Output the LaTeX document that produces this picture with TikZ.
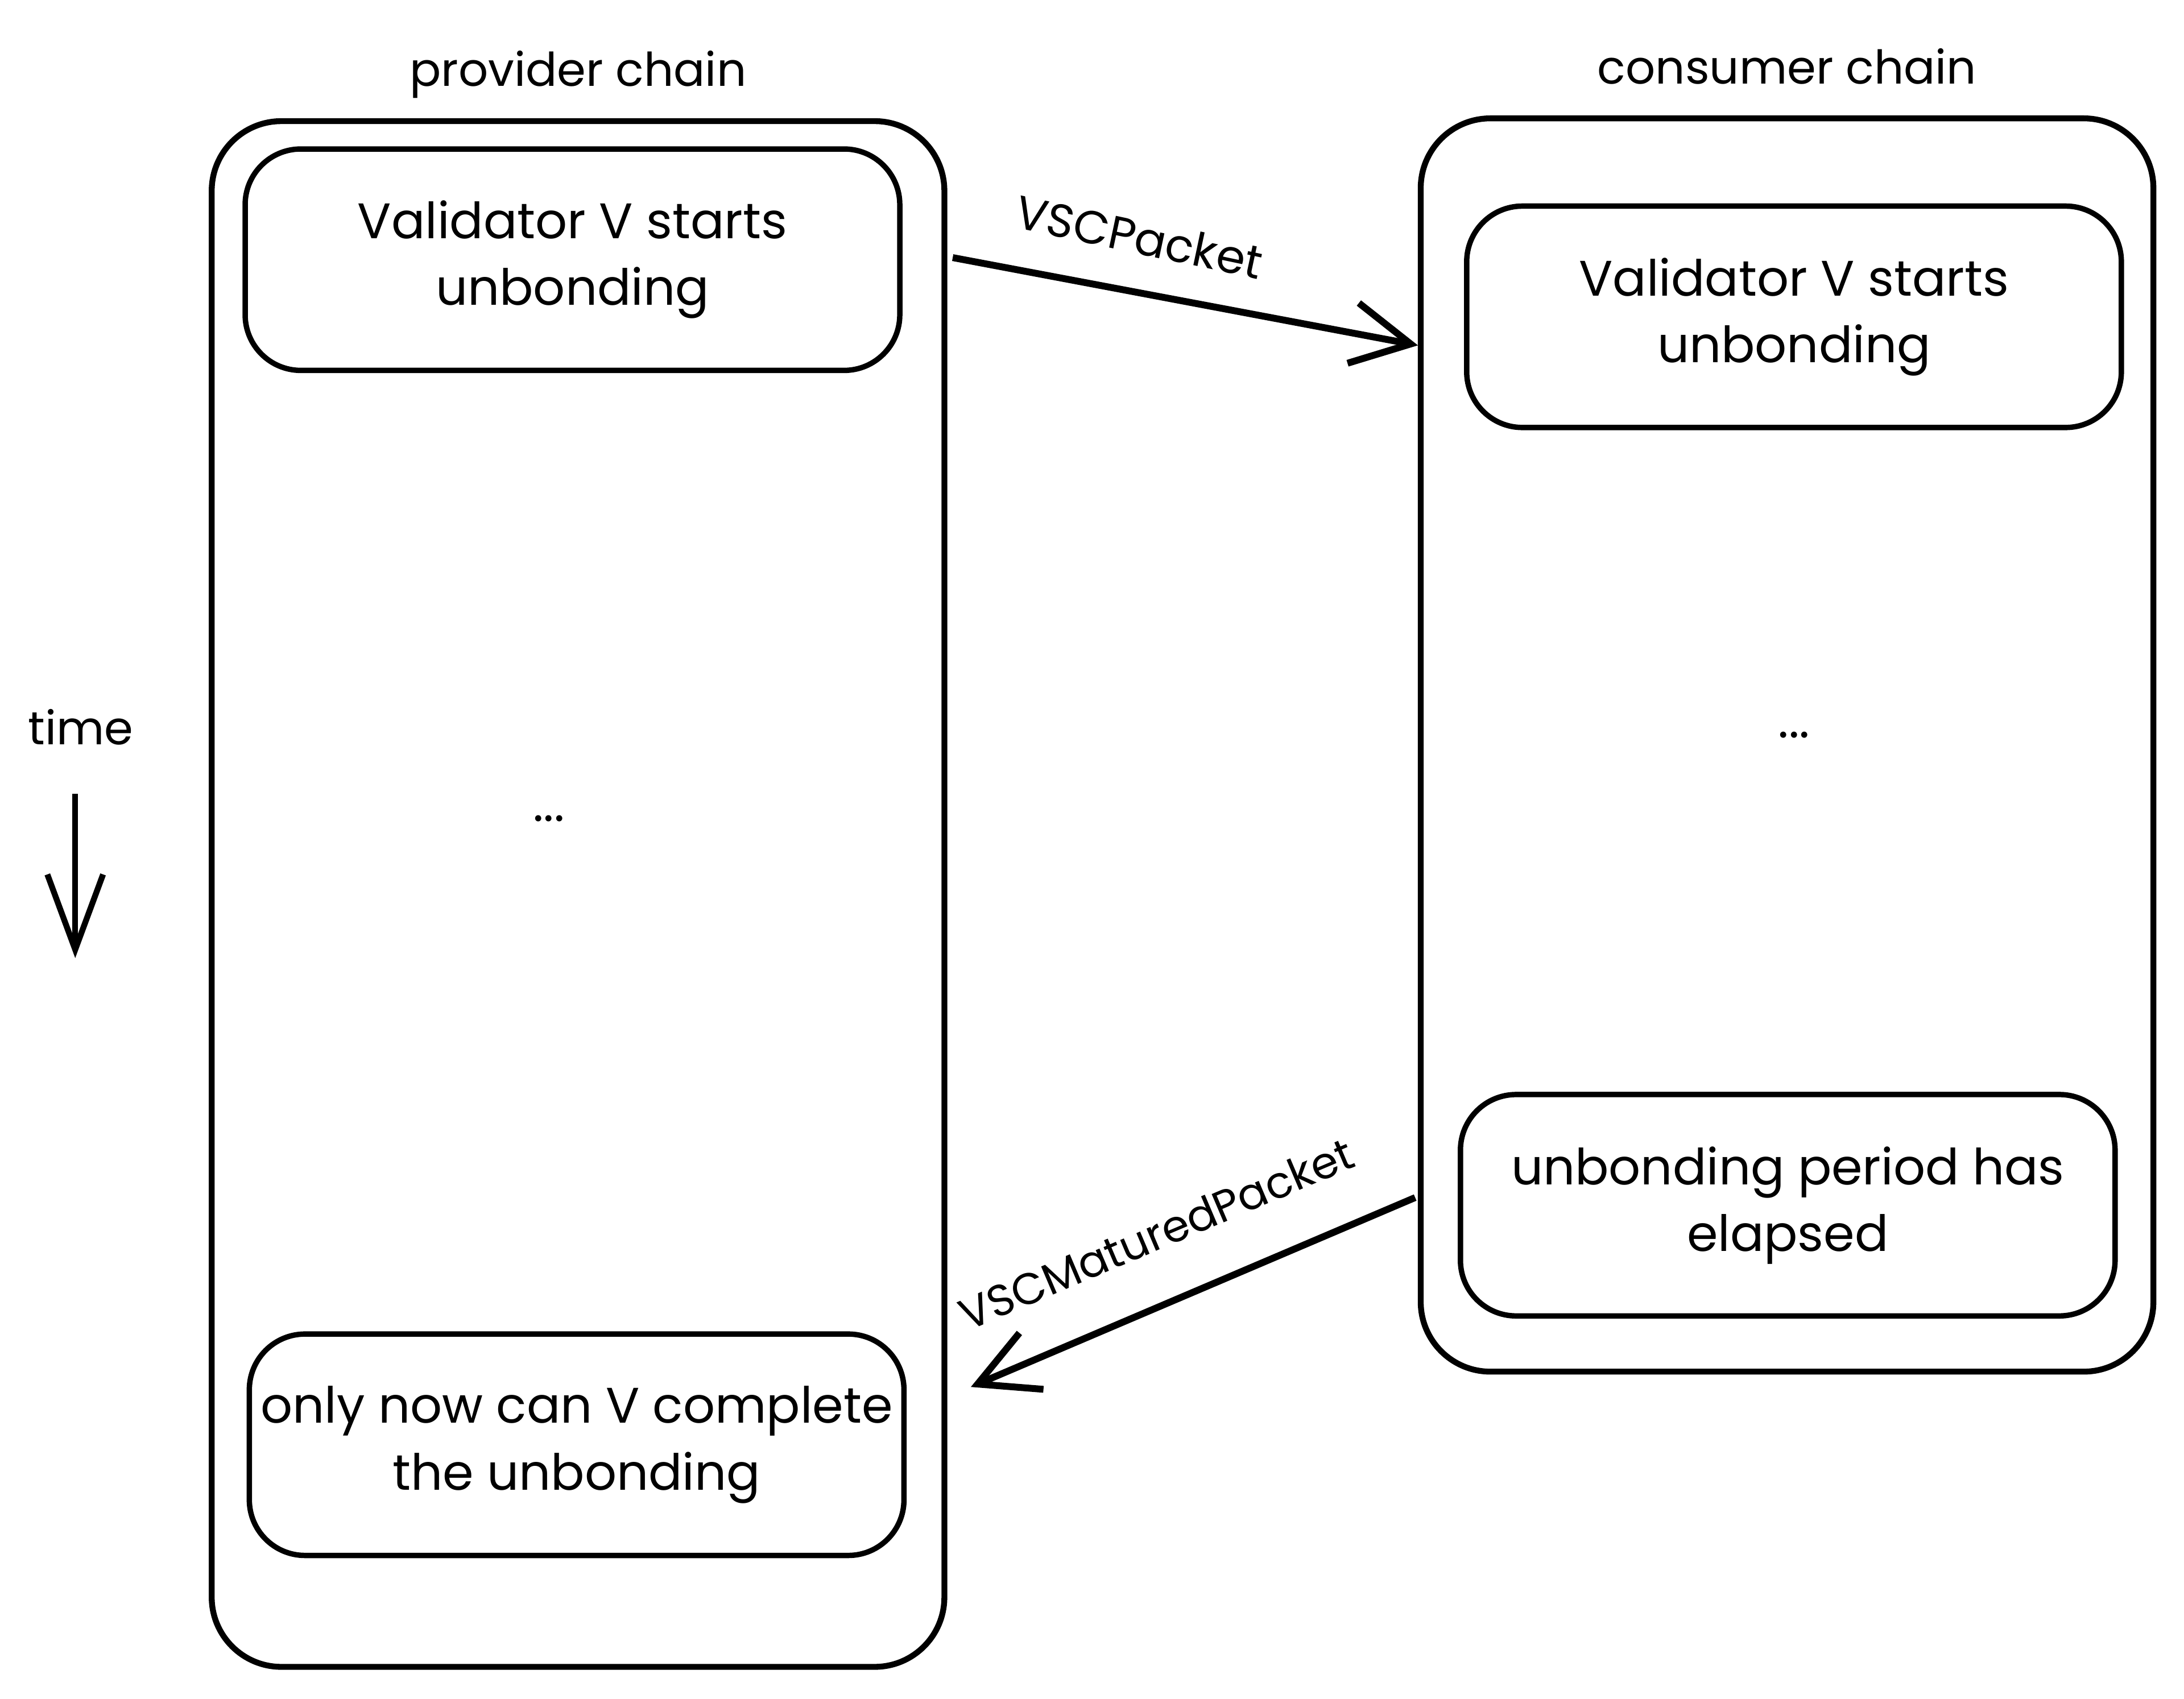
\documentclass[tikz,border=0pt]{standalone}
\usepackage{fontspec}
\setmainfont{Poppins}
\usetikzlibrary{positioning, arrows.meta}

\begin{document}
\begin{tikzpicture}[>={Straight Barb[length=4.2mm, width=4.4mm]}, font=\fontsize{10.2}{13.6}\selectfont,
          chain/.style ={draw, rounded corners=5mm, line width=1.2pt, minimum width=52.6mm},
          ev/.style ={draw, rounded corners=4mm, line width=1.1pt, align=center,
                     minimum width=47mm, minimum height=15.9mm, inner sep=1pt},
          lab/.style={font=\fontsize{9.5}{12}\selectfont},
          msg/.style={line width=1.4pt, ->}]
        \useasboundingbox (0,0) rectangle (15.68,12.20);
        % provider side
        \node[chain, minimum height=111mm] (pout) at (4.15,5.78) {};
        \node[ev] (pstart) at (4.11,10.335) {Validator V starts\\unbonding};
        \node[ev] (pend) at (4.14,1.825) {only now can V complete\\the unbonding};
        \node (pdots) at (3.94,6.32) {...};
        \node[lab, above=0.02 of pout] (ptitle) {provider chain};
        % consumer side
        \node[chain, minimum height=90mm] (cout) at (12.83,6.85) {};
        \node[ev] (cstart) at (12.88,9.925) {Validator V starts\\unbonding};
        \node[ev] (cend) at (12.835,3.545) {unbonding period has\\elapsed};
        \node (cdots) at (12.88,6.92) {...};
        \node[lab, above=0.1 of cout] (ctitle) {consumer chain};
        % time
        \node[lab] (time) at (0.58,6.98) {time};
        \coordinate (t0) at (0.54,6.50);
        \coordinate (t1) at (0.54,5.32);
        \draw[line width=1.2pt, ->, >={Straight Barb[length=5.4mm, width=4mm]}] (t0) -- (t1);
        % packets
        \coordinate (vs) at (6.84,10.35);
        \coordinate (vt) at (10.18,9.72);
        \draw[msg] (vs) -- (vt);
        \node[lab, rotate=-12] (vlab) at (8.18,10.50) {VSCPacket};
        \coordinate (ms) at (10.16,3.60);
        \coordinate (mt) at (6.97,2.24);
        \draw[msg] (ms) -- (mt);
        \node[lab, font=\fontsize{9}{11}\selectfont, rotate=23] (mlab) at (8.30,3.34) {VSCMaturedPacket};
      \end{tikzpicture}
\end{document}
